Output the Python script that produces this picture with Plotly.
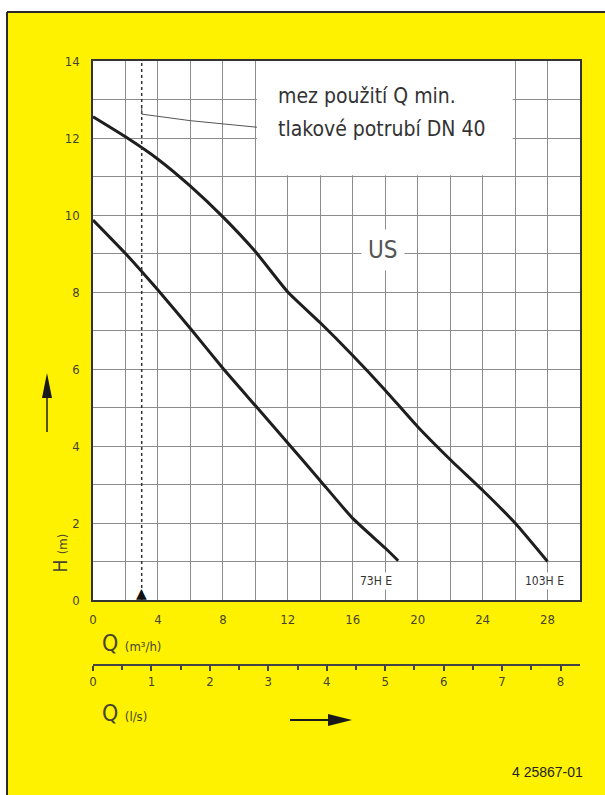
import plotly.graph_objects as go

# ---------------- data ----------------
q_73 = [0, 2, 4, 6, 8, 10, 12, 14, 16, 18, 18.8]
h_73 = [9.87, 9.0, 8.05, 7.05, 6.02, 5.05, 4.08, 3.1, 2.12, 1.35, 1.02]

q_103 = [0, 2, 4, 6, 8, 10, 12, 14, 16, 18, 20, 22, 24, 26, 28]
h_103 = [12.55, 12.03, 11.45, 10.75, 9.95, 9.05, 8.0, 7.2, 6.35, 5.45, 4.5, 3.65, 2.85, 2.0, 1.0]

series_names = ["73H E", "103H E"]
q_min = 3                      # mez použití Q min.
x_ticks_m3h = [0, 4, 8, 12, 16, 20, 24, 28]
y_ticks_m = [0, 2, 4, 6, 8, 10, 12, 14]
x_ticks_ls = [0, 1, 2, 3, 4, 5, 6, 7, 8]
M3H_PER_LS = 3.6
X_MAX = 30
Y_MAX = 14

# ---------------- layout geometry ----------------
W, H = 605, 795
ML, MR, MT, MB = 93, 25, 61, 130
PW = W - ML - MR
PH = H - MT - MB
PLOT_BOTTOM_PX = 600

def px(x):
    return (x - ML) / PW

def py(y):
    return (H - MB - y) / PH

YELLOW = "#FFF200"
GRID = "#8c8c8c"
TXT = "#45452f"
FONT = "DejaVu Sans Condensed, Liberation Sans Narrow, sans-serif"

fig = go.Figure()

# pump curves
for qs, hs, name in [(q_73, h_73, series_names[0]), (q_103, h_103, series_names[1])]:
    fig.add_trace(go.Scatter(x=qs, y=hs, mode="lines", name=name,
                             line=dict(color="#1e1e1e", width=3, shape="spline", smoothing=0.5),
                             hoverinfo="x+y+name"))

# Q min dashed line
fig.add_trace(go.Scatter(x=[q_min, q_min], y=[0, Y_MAX], mode="lines",
                         line=dict(color="#333", width=1.5, dash="3px,3px"),
                         hoverinfo="skip"))

# dummy trace for secondary axis
fig.add_trace(go.Scatter(x=[0, X_MAX / M3H_PER_LS], y=[None, None], xaxis="x2",
                         mode="lines", hoverinfo="skip"))

shapes = []
# white box behind annotation text (hides grid)
shapes.append(dict(type="rect", xref="x", yref="y", x0=10.1, x1=25.85, y0=11.03, y1=Y_MAX,
                   fillcolor="white", line=dict(width=0), layer="between"))
# leader line from Q min to annotation
shapes.append(dict(type="path", xref="x", yref="y",
                   path=f"M {q_min} 12.78 L {q_min} 12.62 L 6 12.45 L 10.1 12.28",
                   line=dict(color="#555", width=1)))
# outer frame: white strips on top and left, dark border
shapes.append(dict(type="rect", xref="paper", yref="paper", x0=px(0), x1=px(W), y0=py(0), y1=py(12),
                   fillcolor="white", line=dict(width=0), layer="above"))
shapes.append(dict(type="rect", xref="paper", yref="paper", x0=px(0), x1=px(7), y0=py(12), y1=py(H),
                   fillcolor="white", line=dict(width=0), layer="above"))
shapes.append(dict(type="line", xref="paper", yref="paper", x0=px(7), x1=px(W), y0=py(12), y1=py(12),
                   line=dict(color="#2a2a2a", width=2), layer="above"))
shapes.append(dict(type="line", xref="paper", yref="paper", x0=px(7), x1=px(7), y0=py(12), y1=py(H),
                   line=dict(color="#2a2a2a", width=2), layer="above"))
# vertical arrow (H)
shapes.append(dict(type="line", xref="paper", yref="paper", x0=px(47), x1=px(47), y0=py(432), y1=py(395),
                   line=dict(color="#555530", width=2)))
shapes.append(dict(type="path", xref="paper", yref="paper",
                   path=f"M {px(42)} {py(398)} L {px(52)} {py(398)} L {px(47)} {py(373)} Z",
                   fillcolor="#1a1a1a", line=dict(width=0)))
# horizontal arrow (Q)
shapes.append(dict(type="line", xref="paper", yref="paper", x0=px(290), x1=px(330), y0=py(720), y1=py(720),
                   line=dict(color="#1a1a1a", width=2)))
shapes.append(dict(type="path", xref="paper", yref="paper",
                   path=f"M {px(328)} {py(714)} L {px(328)} {py(726)} L {px(352)} {py(720)} Z",
                   fillcolor="#1a1a1a", line=dict(width=0)))

annotations = [
    dict(x=11.3, y=13.09, xref="x", yref="y", text="mez použití Q min.", showarrow=False,
         xanchor="left", yanchor="middle", font=dict(family=FONT, size=21, color="#333")),
    dict(x=11.3, y=12.23, xref="x", yref="y", text="tlakové potrubí DN 40", showarrow=False,
         xanchor="left", yanchor="middle", font=dict(family=FONT, size=21, color="#333")),
    dict(x=17.85, y=9.1, xref="x", yref="y", text="US", showarrow=False, bgcolor="white",
         borderpad=6, font=dict(family=FONT, size=24, color="#555")),
    dict(x=q_73[-1], y=0.5, xref="x", yref="y", text=series_names[0], showarrow=False,
         bgcolor="white", xanchor="center", xshift=-22,
         font=dict(family=FONT, size=12, color="#333")),
    dict(x=q_103[-1], y=0.5, xref="x", yref="y", text=series_names[1], showarrow=False,
         bgcolor="white", xanchor="center", xshift=-3,
         font=dict(family=FONT, size=12, color="#333")),
    dict(x=q_min, y=0, xref="x", yref="y", text="▲", showarrow=False, yanchor="bottom",
         yshift=-3, font=dict(family="DejaVu Sans", size=14, color="#111")),
    dict(x=px(100), y=py(643), xref="paper", yref="paper", xanchor="left", yanchor="middle",
         text="Q <span style='font-size:13px'>(m³/h)</span>", showarrow=False,
         font=dict(family=FONT, size=23, color=TXT)),
    dict(x=px(100), y=py(713), xref="paper", yref="paper", xanchor="left", yanchor="middle",
         text="Q <span style='font-size:13px'>(l/s)</span>", showarrow=False,
         font=dict(family=FONT, size=23, color=TXT)),
    dict(x=px(46), y=py(575), xref="paper", yref="paper", textangle=-90,
         text="H <span style='font-size:13px'>(m)</span>", showarrow=False,
         font=dict(family=FONT, size=19, color=TXT)),
    dict(x=px(585), y=py(772), xref="paper", yref="paper", xanchor="right", yanchor="middle",
         text="4 25867-01", showarrow=False,
         font=dict(family="Liberation Sans, Arial, sans-serif", size=14, color="#222")),
]

fig.update_layout(
    width=W, height=H,
    margin=dict(l=ML, r=MR, t=MT, b=MB, pad=0),
    paper_bgcolor=YELLOW, plot_bgcolor="white",
    showlegend=False,
    shapes=shapes, annotations=annotations,
    font=dict(family=FONT, color=TXT),
    xaxis=dict(range=[0, X_MAX], tickvals=x_ticks_m3h, showgrid=True, gridcolor=GRID, gridwidth=1.2,
               minor=dict(dtick=2, showgrid=True, gridcolor=GRID, gridwidth=1.2),
               showline=True, linecolor="#333", linewidth=2, mirror=True, ticks="",
               ticklabelstandoff=6, tickfont=dict(family=FONT, size=13, color=TXT),
               zeroline=False, anchor="y", fixedrange=True),
    yaxis=dict(range=[0, Y_MAX], tickvals=y_ticks_m, domain=[(H - MB - PLOT_BOTTOM_PX) / PH, 1],
               showgrid=True, gridcolor=GRID, gridwidth=1.2,
               minor=dict(dtick=1, showgrid=True, gridcolor=GRID, gridwidth=1.2),
               showline=True, linecolor="#333", linewidth=1.5, mirror=True, ticks="",
               ticklabelstandoff=9, tickfont=dict(family=FONT, size=13, color=TXT),
               zeroline=False, fixedrange=True),
    xaxis2=dict(range=[0, X_MAX / M3H_PER_LS], overlaying="x", anchor="free", position=0,
                side="bottom", tickvals=x_ticks_ls, showgrid=False, zeroline=False,
                showline=True, linecolor="#444", linewidth=1.5,
                ticks="outside", ticklen=5, tickwidth=1.5, tickcolor="#444",
                minor=dict(dtick=0.5, ticks="outside", ticklen=4, tickwidth=1.5, tickcolor="#444"),
                tickfont=dict(family=FONT, size=13, color=TXT), fixedrange=True),
)

fig.write_html("out.html", config={"displayModeBar": False},
               post_script="document.body.style.margin='0';document.body.style.overflow='hidden';")
